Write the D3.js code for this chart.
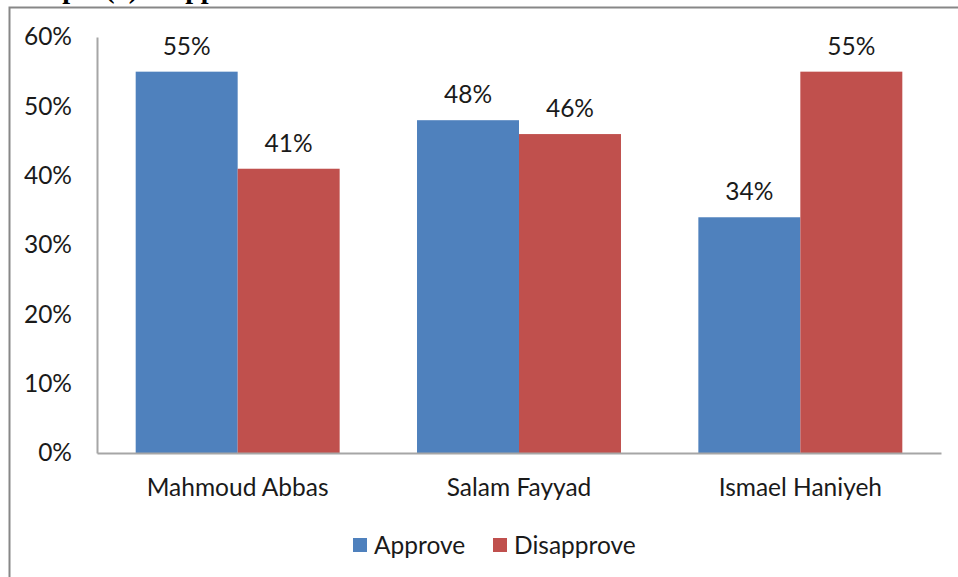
<!DOCTYPE html>
<html>
<head>
<meta charset="utf-8">
<script src="https://cdn.jsdelivr.net/npm/d3@7/dist/d3.min.js"></script>
<style>
  body { margin: 0; background: #fff; }
  text { font-family: Lato, "Open Sans", sans-serif; fill: #1a1a1a; }
</style>
</head>
<body>
<svg id="chart" width="958" height="577"></svg>
<script>
// data
const categories = ["Mahmoud Abbas", "Salam Fayyad", "Ismael Haniyeh"];
const seriesNames = ["Approve", "Disapprove"];
const approve = [55, 48, 34];
const disapprove = [41, 46, 55];
const yTicks = [0, 10, 20, 30, 40, 50, 60];
const colors = ["#4F81BD", "#C0504D"];

const values = [approve, disapprove];
const svg = d3.select("#chart");
const fontSize = "24.5px";

// title, cut off at the top edge (only descenders show)
const title = svg.append("text")
    .attr("y", -2.5)
    .style("font-family", '"Liberation Serif", serif')
    .style("font-weight", "bold")
    .style("font-size", "28px")
    .style("fill", "#000");
title.append("tspan").attr("x", 14).style("word-spacing", "5px").text("Graph (1)");
title.append("tspan").attr("x", 165).text("Approval");

// chart frame
svg.append("rect")
    .attr("x", 9.5).attr("y", 7.5)
    .attr("width", 1000).attr("height", 700)
    .attr("fill", "none")
    .attr("stroke", "#878787")
    .attr("stroke-width", 2);

const plotL = 97, plotR = 941, plotT = 37, plotB = 453;

const x0 = d3.scaleBand().domain(categories).range([plotL, plotR])
    .paddingInner(0.275).paddingOuter(0.1375);
const x1 = d3.scaleBand().domain(seriesNames).range([0, x0.bandwidth()]);
const y = d3.scaleLinear().domain([0, 60]).range([plotB, plotT]);

// bars
categories.forEach((c, i) => {
    const g = svg.append("g").attr("transform", `translate(${x0(c)},0)`);
    seriesNames.forEach((s, j) => {
        const v = values[j][i];
        g.append("rect")
            .attr("x", x1(s)).attr("y", y(v))
            .attr("width", x1.bandwidth()).attr("height", y(0) - y(v))
            .attr("fill", colors[j]);
        g.append("text")
            .attr("x", x1(s) + x1.bandwidth() / 2)
            .attr("y", y(v) - 17)
            .attr("text-anchor", "middle")
            .style("font-size", fontSize)
            .text(v + "%");
    });
});

// y axis
const yAxis = d3.axisLeft(y).tickValues(yTicks).tickSize(0).tickPadding(25)
    .tickFormat(d => d + "%");
const ya = svg.append("g").attr("transform", `translate(${plotL},0)`).call(yAxis);
ya.select(".domain").attr("stroke", "#a6a6a6").attr("stroke-width", 2);
ya.selectAll("text").style("font-size", fontSize).style("font-family", 'Lato, "Open Sans", sans-serif').attr("fill", "#1a1a1a");

// x axis
const xAxis = d3.axisBottom(x0).tickSize(0).tickPadding(26).tickSizeOuter(0);
const xa = svg.append("g").attr("transform", `translate(0,${plotB})`).call(xAxis);
xa.select(".domain").attr("stroke", "#a6a6a6").attr("stroke-width", 2);
xa.selectAll("text").style("font-size", fontSize).style("font-family", 'Lato, "Open Sans", sans-serif').attr("fill", "#1a1a1a");

// legend
const legendX = [353, 493];
seriesNames.forEach((s, j) => {
    svg.append("rect")
        .attr("x", legendX[j]).attr("y", 538)
        .attr("width", 14).attr("height", 14)
        .attr("fill", colors[j]);
    svg.append("text")
        .attr("x", legendX[j] + 21).attr("y", 554)
        .style("font-size", fontSize)
        .text(s);
});
</script>
</body>
</html>
